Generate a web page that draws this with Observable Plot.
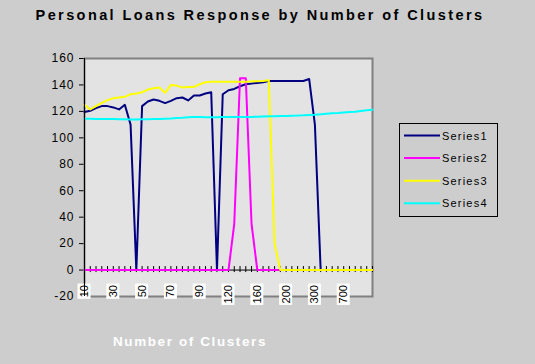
<!DOCTYPE html>
<html><head><meta charset="utf-8">
<script src="https://cdn.jsdelivr.net/npm/d3@7"></script>
<script src="https://cdn.jsdelivr.net/npm/@observablehq/plot@0.6"></script>
<style>
html,body{margin:0;padding:0;background:#cdcdcd;}
svg text{font-family:"Liberation Sans",Arial,sans-serif;}
.ylab text{letter-spacing:1px;}
</style>
</head><body><div id="chart"></div>
<script>
// ---- data ----
const chartTitle = "Personal Loans Response by Number of Clusters";
const xTitle = "Number of Clusters";
const tickLabels = ["10","30","50","70","90","120","160","200","300","700"];
const labelStep = 5;
const yTicks = [-20,0,20,40,60,80,100,120,140,160];
const seriesNames = ["Series1","Series2","Series3","Series4"];
const seriesColors = ["#000080","#ff00ff","#ffff00","#00ffff"];
const series1 = [119.5,120.5,122.5,124,124,123,121.5,125,110,0,124,127.5,129,128,126.3,128,130,130.5,128.3,132,132,133.5,134.5,0,133,136,137,139,140.5,141,141.5,142,143,143,143,143,143,143,143,144.5,110,0,0,0,0,0,0,0,0,0,0];
const series2 = [0,0,0,0,0,0,0,0,0,0,0,0,0,0,0,0,0,0,0,0,0,0,0,0,0,0,35,145,145,35,0,0,0,0,0,0,0,0,0,0,0,0,0,0,0,0,0,0,0,0,0];
const series3 = [125,121.5,124,126.5,128.5,130,130.5,131,133,133.5,134.5,136.5,137.5,138,134,140,139.5,138,138.5,138.5,140.5,142,142.5,142.5,142.5,142.5,142.5,142.5,142.5,142.7,142.8,143,143.5,20,0,0,0,0,0,0,0,0,0,0,0,0,0,0,0,0,0];
const series4 = [114.5,114.5,114.3,114.3,114.2,114.2,114,114,113.8,113.8,114,114,114.2,114.3,114.5,114.7,115,115.2,115.5,115.7,115.7,115.5,115.5,115.5,115.7,115.7,115.7,115.7,115.7,115.8,116,116.2,116.3,116.3,116.5,116.5,116.7,116.8,117,117.3,117.5,117.8,118.2,118.5,118.8,119.2,119.5,119.8,120.3,120.8,121.3];

// ---- build ----
const categories = d3.range(series1.length);
const seriesValues = [series1, series2, series3, series4];
const rows = seriesValues.flatMap((vals, s) => vals.map((v, i) => ({series: seriesNames[s], i, v})));
const labelRows = tickLabels.map((t, k) => ({i: k * labelStep, t}));

const W = 535, H = 364;
const tickSymbol = {draw(ctx) { ctx.moveTo(0, -4); ctx.lineTo(0, 2); }};

const plot = Plot.plot({
  width: W, height: H,
  marginLeft: 84, marginRight: 163, marginTop: 58, marginBottom: 68,
  style: {background: "#cdcdcd", fontSize: "12px", fontFamily: "Liberation Sans, Arial, sans-serif", overflow: "visible"},
  x: {domain: [0, categories.length - 1], axis: null},
  y: {domain: [-20, 160], ticks: yTicks, tickSize: 5, tickPadding: 5, label: null, tickFormat: d => String(d)},
  color: {domain: seriesNames, range: seriesColors},
  marks: [
    Plot.frame({fill: "#e3e3e3", stroke: "#808080", strokeWidth: 2}),
    Plot.ruleY([0], {stroke: "black", strokeWidth: 1}),
    Plot.dot(categories, {x: d => d, y: () => 0, symbol: tickSymbol, r: 3, stroke: "black", fill: "none", strokeWidth: 1}),
    Plot.line(rows, {x: "i", y: "v", z: "series", stroke: d => d.series, strokeWidth: 2, curve: "linear"}),
    Plot.text(labelRows, {x: "i", y: () => 0, text: "t", rotate: -90, textAnchor: "end", dy: 15, fontSize: 11, fill: "black"}),
    Plot.ruleX([0], {stroke: "black", strokeWidth: 1})
  ]
});
document.getElementById("chart").appendChild(plot);

const svg = d3.select(plot);
svg.selectAll('g[aria-label="y-axis tick label"], g[aria-label="y-axis"]').classed("ylab", true);

// white boxes behind x labels
svg.selectAll('g[aria-label="text"] text').each(function() {
  const bb = this.getBBox();
  d3.select(this.parentNode).insert("rect", () => this)
    .attr("transform", this.getAttribute("transform"))
    .attr("x", bb.x - 1.5).attr("y", bb.y - 0.5)
    .attr("width", bb.width + 3).attr("height", bb.height + 1)
    .attr("fill", "white");
});

// title
svg.append("text").text(chartTitle)
  .attr("x", 260).attr("y", 19.5).attr("text-anchor", "middle")
  .style("font-size", "14.5px").style("font-weight", "bold").style("letter-spacing", "2.4px").attr("fill", "black");

// x-axis title
svg.append("text").text(xTitle)
  .attr("x", 190).attr("y", 346).attr("text-anchor", "middle")
  .style("font-size", "13.5px").style("font-weight", "bold").style("letter-spacing", "1.6px").attr("fill", "white");

// legend
const lg = svg.append("g");
lg.append("rect").attr("x", 399.5).attr("y", 123.5).attr("width", 98).attr("height", 93)
  .attr("fill", "none").attr("stroke", "black").attr("stroke-width", 1);
seriesNames.forEach((name, k) => {
  const yy = 135.5 + k * 22.6;
  lg.append("line").attr("x1", 404).attr("x2", 440).attr("y1", yy).attr("y2", yy)
    .attr("stroke", seriesColors[k]).attr("stroke-width", 2);
  lg.append("text").text(name).attr("x", 442).attr("y", yy + 4).attr("text-anchor", "start")
    .style("font-size", "11px").style("letter-spacing", "1.2px").attr("fill", "black");
});
</script>
</body></html>
